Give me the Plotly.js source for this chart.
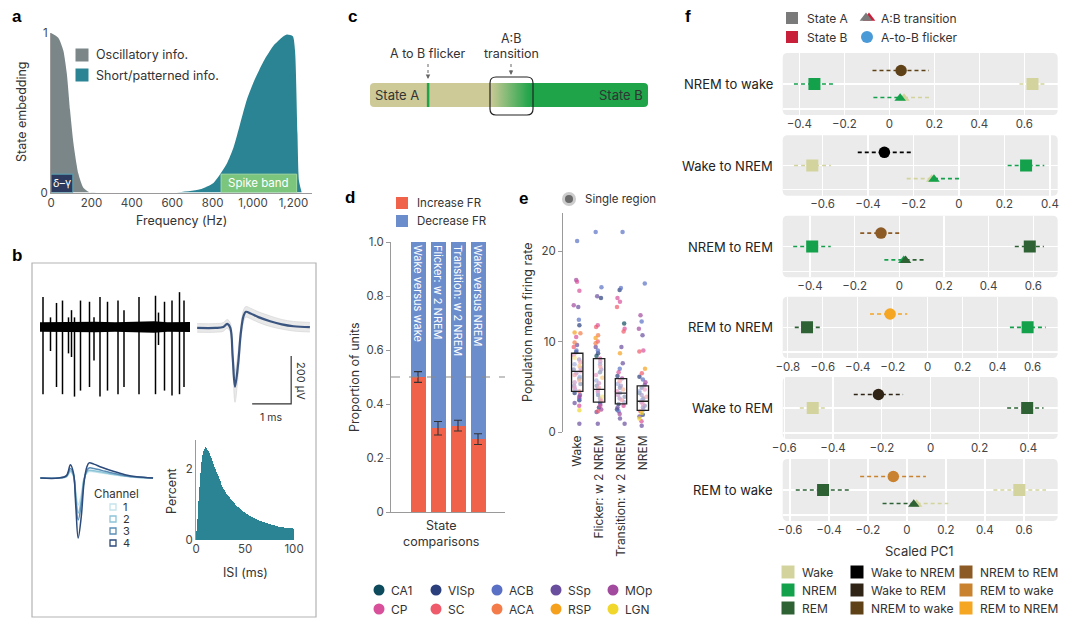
<!DOCTYPE html>
<html><head><meta charset="utf-8">
<script src="https://cdn.plot.ly/plotly-3.0.1.min.js"></script>
<style>html,body{margin:0;padding:0;background:#fff}#chart{width:1080px;height:626px}</style>
</head><body><div id="chart"></div>
<script>
const W=1080,H=626;
const FONT='Inter, "Noto Sans", "DejaVu Sans", sans-serif';

// ---------- DATA ----------
// a: state embedding vs frequency
const freqOsc=[0,36,61,78,94,111,135,160,193,225];
const embOsc=[1.0,0.97,0.89,0.75,0.52,0.31,0.12,0.03,0.0,0.0];
const freqSpk=[560,622,738,804,870,903,936,969,1002,1051,1101,1142,1167,1197,1208,1220,1228,1241];
const embSpk=[0,0.0,0.02,0.06,0.18,0.28,0.43,0.58,0.69,0.82,0.92,0.97,0.99,0.98,0.89,0.37,0.07,0];
const aLegend=['Oscillatory info.','Short/patterned info.'];
const aTickVals=[0,200,400,600,800,1000,1200];
const aTickText=['0','200','400','600','800','1,000','1,200'];

// b: raw trace spikes (time in % of window, amplitudes in µV)
const spikeT=[2,7,11,15,19,21,23,27,33,36,40,45,52,56,66,77,79,83,88,93,96];
const spikeUp=[125,40,100,110,40,70,40,110,105,40,125,105,110,70,125,130,60,105,110,145,110];
const spikeDown=[280,100,250,280,110,125,290,265,250,140,290,265,280,250,280,280,75,265,285,280,250];
const noiseAmp=[20,21,19,22,20,21,24,20,21];
const noiseT=[0,12,25,37,50,62,76,85,100];
// b: spike waveform (ms, µV)
const wfT=[-0.97,-0.5,-0.3,-0.2,-0.12,-0.06,0,0.08,0.15,0.22,0.28,0.4,0.6,0.9,1.2,1.5,1.92];
const wfMean=[0,0,4,17,0,-120,-245,-150,-20,50,67,60,45,28,15,7,3];
const wfSpread=[18,18,18,18,20,35,65,50,30,25,22,22,22,22,20,20,20];
// b: channel waveforms
const ch1=[0,0,5,25,8,-60,-112,-70,0,20,27,26,21,14,7,2,0];
const ch2=[0,0,6,30,10,-75,-146,-90,-5,25,32,30,25,16,8,3,0];
const ch3=[0,0,8,40,15,-90,-175,-110,-10,30,42,40,32,20,10,4,0];
const ch4=[0,0,10,55,20,-120,-250,-160,-20,45,63,58,45,28,14,5,0];
const chNames=['1','2','3','4'];
// b: ISI histogram (percent per 1-ms bin)
const isiPct=[0.25,0.6,1.1,1.5,1.9,2.2,2.4,2.5,2.58,2.62,2.6,2.55,2.5,2.44,2.37,2.3,2.22,2.14,2.07,2.0,1.93,1.86,1.8,1.73,1.67,1.6,1.55,1.5,1.45,1.4,1.36,1.31,1.27,1.23,1.2,1.16,1.12,1.09,1.06,1.03,1.0,0.97,0.94,0.92,0.89,0.87,0.85,0.83,0.8,0.78,0.76,0.74,0.72,0.71,0.69,0.67,0.66,0.64,0.63,0.61,0.6,0.59,0.57,0.56,0.55,0.54,0.53,0.52,0.51,0.5,0.49,0.48,0.47,0.46,0.45,0.44,0.44,0.43,0.42,0.41,0.41,0.4,0.39,0.39,0.38,0.38,0.37,0.37,0.36,0.36,0.35,0.35,0.35,0.34,0.34,0.34,0.33,0.33,0.33,0.32];

// c: timeline (percent of window)
const flickerT=20.9, transStart=43.2, transEnd=57.6, timelineEnd=100;

// d: proportion of units
const dCats=['Wake versus wake','Flicker: w 2 NREM','Transition: w 2 NREM','Wake versus NREM'];
const incFR=[0.50,0.31,0.32,0.27];
const incErr=[0.02,0.025,0.02,0.02];

// e: population mean firing rate
const eCats=['Wake','Flicker: w 2 NREM','Transition: w 2 NREM','NREM'];
const eQ1=[4.5,3.3,3.1,2.4], eMed=[6.7,4.7,4.3,3.4], eQ3=[8.7,8.1,5.9,5.1];
const regNames=['CA1','VISp','ACB','SSp','MOp','CP','SC','ACA','RSP','LGN'];
const regColors=['#0d4a5c','#2a3f7c','#5a70c4','#6a4e9e','#a24a9e','#d8509a','#ef5b6b','#f47c4a','#f6a11e','#f1d62c'];
const wakeVals=[21.1,16.8,16.6,15.6,14.0,13.8,12.4,11.8,11.0,10.9,10.5,9.9,9.6,9.4,9.0,8.8,8.5,8.2,8.0,7.7,7.5,7.3,7.1,6.9,6.7,6.5,6.3,6.1,5.9,5.7,5.5,5.3,5.1,4.9,4.7,4.5,4.3,4.1,3.9,3.7,3.5,3.2,2.9,2.4,0.9];
const wakeReg=[2,4,5,5,4,3,2,1,8,7,5,7,3,6,2,1,5,9,3,6,2,8,4,1,5,3,6,2,0,7,4,1,3,5,2,6,1,3,4,2,1,3,5,9,3];
const flickVals=[22.1,16.0,15.0,14.8,11.8,11.6,10.7,10.4,10.0,9.8,9.4,9.0,8.7,8.4,8.1,7.8,7.5,7.2,6.9,6.6,6.3,6.0,5.7,5.4,5.1,4.9,4.7,4.5,4.3,4.1,3.9,3.7,3.5,3.3,3.1,2.9,2.7,2.5,2.3,2.2,0.9];
const flickReg=[2,2,3,1,5,6,7,8,6,7,3,2,1,0,5,4,2,6,3,1,5,8,2,4,1,6,3,5,2,1,9,3,6,1,2,5,1,4,6,3,3];
const transVals=[22.1,15.9,15.7,14.8,14.4,13.8,12.0,11.4,11.1,9.4,8.7,7.6,7.0,6.6,6.2,5.9,5.6,5.3,5.1,4.9,4.7,4.5,4.3,4.1,3.9,3.7,3.5,3.3,3.1,2.9,2.7,2.5,2.3,2.0,1.5,0.9];
const transReg=[2,2,1,5,5,6,0,5,6,3,8,3,2,5,1,4,6,2,3,1,7,5,2,4,1,3,6,2,1,5,3,1,2,4,3,3];
const nremVals=[16.4,12.9,12.2,11.4,10.7,9.0,8.9,7.0,6.5,6.1,5.8,5.5,5.2,4.9,4.7,4.5,4.3,4.1,3.9,3.7,3.5,3.3,3.1,2.9,2.7,2.5,2.3,2.1,1.9,1.7,1.5,1.2,0.7];
const nremReg=[2,4,2,4,3,5,6,8,6,1,2,4,3,1,5,2,0,3,6,1,2,4,5,1,3,2,6,9,1,3,9,5,3];

// f: scaled PC1 per transition type: [value, low, high]
const fNames=['NREM to wake','Wake to NREM','NREM to REM','REM to NREM','Wake to REM','REM to wake'];
const fStateA=['NREM','Wake','NREM','REM','Wake','REM'];
const fStateB=['Wake','NREM','REM','NREM','REM','Wake'];
const fFlick=[[0.052,-0.075,0.176],[-0.328,-0.445,-0.211],[-0.082,-0.175,0.012],[-0.215,-0.33,-0.117],[-0.214,-0.315,-0.113],[-0.07,-0.24,0.097]];
const fA=[[-0.333,-0.424,-0.244],[-0.645,-0.725,-0.563],[-0.39,-0.475,-0.307],[-0.69,-0.76,-0.617],[-0.483,-0.536,-0.422],[-0.43,-0.57,-0.29]];
const fB=[[0.636,0.578,0.692],[0.295,0.214,0.375],[0.584,0.517,0.647],[0.571,0.47,0.674],[0.395,0.313,0.462],[0.576,0.443,0.713]];
const fTransA=[[0.048,-0.071],[-0.12,-0.23],[0.02,-0.067],null,null,[0.035,-0.125]];
const fTransB=[[0.065,0.184],[-0.11,0.004],[0.028,0.12],null,null,[0.05,0.212]];
const stateNames=['Wake','NREM','REM'];
const stateColors=['#d3d49d','#13a14b','#2e6234'];
const transNames=['Wake to NREM','Wake to REM','NREM to wake','NREM to REM','REM to wake','REM to NREM'];
const transColors=['#000000','#2f2416','#5e4117','#8c5a25','#c98230','#f5a623'];
const fTopLegend=['State A','State B','A:B transition','A-to-B flicker'];

// ---------- LAYOUT HELPERS ----------
const layout={width:W,height:H,margin:{l:0,r:0,t:0,b:0},paper_bgcolor:'#ffffff',plot_bgcolor:'rgba(0,0,0,0)',
  showlegend:false,font:{family:FONT,size:12,color:'#333'},shapes:[],annotations:[],boxmode:'overlay',barmode:'stack',hovermode:false};
const TICKF={family:FONT,size:11.5,color:'#444'};
function addAxes(n,xd,yd,xo,yo){
  const s=n===1?'':String(n);
  layout['xaxis'+s]=Object.assign({domain:[xd[0]/W,xd[1]/W],anchor:'y'+s,showgrid:false,zeroline:false,showline:false,showticklabels:false,ticks:'',fixedrange:true,tickfont:TICKF},xo||{});
  layout['yaxis'+s]=Object.assign({domain:[1-yd[1]/H,1-yd[0]/H],anchor:'x'+s,showgrid:false,zeroline:false,showline:false,showticklabels:false,ticks:'',fixedrange:true,tickfont:TICKF},yo||{});
}
function txt(x,y,text,o){layout.annotations.push(Object.assign({x:x/W,y:1-y/H,xref:'paper',yref:'paper',text:text,showarrow:false,xanchor:'center',yanchor:'middle',font:{family:FONT,size:12,color:'#333'}},o||{}));}
function letter(x,y,l){txt(x,y,'<b>'+l+'</b>',{font:{family:'"Liberation Sans", Arial, sans-serif',size:17,color:'#000'}});}
function rr(x0,x1,y0,y1,rx,ry){return `M ${x0+rx},${y0} L ${x1-rx},${y0} Q ${x1},${y0} ${x1},${y0+ry} L ${x1},${y1-ry} Q ${x1},${y1} ${x1-rx},${y1} L ${x0+rx},${y1} Q ${x0},${y1} ${x0},${y1-ry} L ${x0},${y0+ry} Q ${x0},${y0} ${x0+rx},${y0} Z`;}
const data=[];
// overlay axis for legend keys (pixel space)
addAxes(30,[0,W],[0,H],{range:[0,W]},{range:[H,0]});
function key(x,y,sym,color,size,o){data.push(Object.assign({type:'scatter',mode:'markers',x:[x],y:[y],xaxis:'x30',yaxis:'y30',marker:{symbol:sym,color:color,size:size,line:{width:0}},hoverinfo:'skip'},o||{}));}

// ---------- PANEL A ----------
addAxes(1,[51,312],[33,192.5],{range:[0,1292],showline:true,linecolor:'#9a9a9a',linewidth:1,showticklabels:true,tickvals:aTickVals,ticktext:aTickText},
  {range:[0,1],showline:true,linecolor:'#9a9a9a',linewidth:1,showticklabels:true,tickvals:[0,1],ticktext:['0','1']});
data.push({type:'scatter',x:freqOsc,y:embOsc,xaxis:'x',yaxis:'y',mode:'lines',line:{width:0,shape:'spline',smoothing:0.6},fill:'tozeroy',fillcolor:'#7b8689',hoverinfo:'skip'});
data.push({type:'scatter',x:freqSpk,y:embSpk,xaxis:'x',yaxis:'y',mode:'lines',line:{width:0,shape:'spline',smoothing:0.6},fill:'tozeroy',fillcolor:'#2b8494',hoverinfo:'skip'});
layout.shapes.push({type:'rect',xref:'x',yref:'y',x0:0,x1:108,y0:0,y1:0.115,fillcolor:'#2b3a5e',line:{color:'#5aa5b8',width:1}});
layout.shapes.push({type:'rect',xref:'x',yref:'y',x0:842,x1:1216,y0:0,y1:0.115,fillcolor:'#7cc57c',line:{color:'#a5d9a0',width:1}});
layout.annotations.push({xref:'x',yref:'y',x:54,y:0.058,text:'δ–γ',showarrow:false,font:{family:FONT,size:11,color:'#fff'}});
layout.annotations.push({xref:'x',yref:'y',x:1029,y:0.058,text:'Spike band',showarrow:false,font:{family:FONT,size:11.5,color:'#fff'}});
key(82,55,'square','#7b8689',13); key(82,75,'square','#2b8494',13);
txt(94,55,aLegend[0],{xanchor:'left',font:{family:FONT,size:12.5,color:'#333'}});
txt(94,75,aLegend[1],{xanchor:'left',font:{family:FONT,size:12.5,color:'#333'}});
txt(21,112,'State embedding',{textangle:-90,font:{family:FONT,size:12.5,color:'#333'}});
txt(181,220,'Frequency (Hz)',{font:{family:FONT,size:12.5,color:'#333'}});
letter(17,17,'a');

// ---------- PANEL B ----------
letter(17,255,'b');
layout.shapes.push({type:'rect',xref:'paper',yref:'paper',x0:32/W,x1:316/W,y0:1-617/H,y1:1-263/H,line:{color:'#b3b3b3',width:1.2}});
// raw trace
addAxes(2,[40,190],[290,405],{range:[0,100]},{range:[-325,154]});
data.push({type:'scatter',x:noiseT,y:noiseAmp.map(v=>-v),xaxis:'x2',yaxis:'y2',mode:'lines',line:{width:0,color:'#000'},hoverinfo:'skip'});
data.push({type:'scatter',x:noiseT,y:noiseAmp,xaxis:'x2',yaxis:'y2',mode:'lines',line:{width:0,color:'#000'},fill:'tonexty',fillcolor:'#000',hoverinfo:'skip'});
(function(){const xs=[],ys=[];spikeT.forEach((t,i)=>{xs.push(t,t,null);ys.push(-spikeDown[i],spikeUp[i],null);});
data.push({type:'scatter',x:xs,y:ys,xaxis:'x2',yaxis:'y2',mode:'lines',line:{width:1.5,color:'#000'},hoverinfo:'skip'});})();
// waveform
addAxes(3,[197,312],[290,415],{range:[-0.974,1.974]},{range:[-363,158]});
data.push({type:'scatter',x:wfT,y:wfMean.map((v,i)=>v-wfSpread[i]),xaxis:'x3',yaxis:'y3',mode:'lines',line:{width:0.6,color:'#d0d0d0',shape:'spline'},hoverinfo:'skip'});
data.push({type:'scatter',x:wfT,y:wfMean.map((v,i)=>v+wfSpread[i]),xaxis:'x3',yaxis:'y3',mode:'lines',line:{width:0.6,color:'#d0d0d0',shape:'spline'},fill:'tonexty',fillcolor:'rgba(200,200,200,0.4)',hoverinfo:'skip'});
data.push({type:'scatter',x:wfT,y:wfMean,xaxis:'x3',yaxis:'y3',mode:'lines',line:{width:2.2,color:'#3a5580',shape:'spline'},hoverinfo:'skip'});
layout.shapes.push({type:'path',xref:'x3',yref:'y3',path:'M 0.44,-317 L 1.44,-317 L 1.44,-117',line:{color:'#333',width:1.2}});
txt(301,381,'200 µV',{textangle:90,font:{family:FONT,size:11,color:'#333'}});
txt(271,417,'1 ms',{font:{family:FONT,size:10.5,color:'#333'}});
// channels
addAxes(4,[38,155],[455,545],{range:[-1.03,1.97]},{range:[-279,96]});
const chCols=['#c4e3ec','#8cc4d7','#5a8db5','#2c4a7a'];
[ch1,ch2,ch3,ch4].forEach((c,i)=>data.push({type:'scatter',x:wfT,y:c,xaxis:'x4',yaxis:'y4',mode:'lines',line:{width:1.5,color:chCols[i],shape:'spline'},hoverinfo:'skip'}));
txt(116,494,'Channel',{font:{family:FONT,size:11.5,color:'#333'}});
chNames.forEach((n,i)=>{const y=507+i*12;key(113,y,'square-open',chCols[i],6,{marker:{symbol:'square-open',size:6,color:chCols[i],line:{width:1.3,color:chCols[i]}}});txt(121,y,n,{xanchor:'left',font:{family:FONT,size:11,color:'#333'}});});
// ISI histogram
addAxes(5,[196,296],[440,540],{range:[0,102],showticklabels:true,tickvals:[0,50,100],ticktext:['0','50','100']},
  {range:[0,2.82],showline:true,linecolor:'#9a9a9a',showticklabels:true,tickvals:[0,2],ticktext:['0','2']});
data.push({type:'bar',x:isiPct.map((_,i)=>i+0.5),y:isiPct,width:1,xaxis:'x5',yaxis:'y5',marker:{color:'#2a8493',line:{width:0}},hoverinfo:'skip'});
txt(171,491,'Percent',{textangle:-90,font:{family:FONT,size:12.5,color:'#333'}});
txt(245,572,'ISI (ms)',{font:{family:FONT,size:12.5,color:'#333'}});

// ---------- PANEL C ----------
letter(352,16,'c');
addAxes(6,[370,648],[83,107],{range:[0,100]},{range:[0,1]});
layout.shapes.push({type:'path',xref:'x6',yref:'y6',path:rr(0,transStart+1,0,1,1.5,0.17),fillcolor:'#cdca97',line:{width:0},layer:'below'});
layout.shapes.push({type:'path',xref:'x6',yref:'y6',path:rr(transEnd-1,timelineEnd,0,1,1.5,0.17),fillcolor:'#1fa44a',line:{width:0},layer:'below'});
data.push({type:'scatter',x:[transStart,transEnd,transEnd,transStart,transStart],y:[0,0,1,1,0],xaxis:'x6',yaxis:'y6',mode:'lines',line:{width:0},fill:'toself',
  fillgradient:{type:'horizontal',colorscale:[[0,'#cdca97'],[1,'#1fa44a']]},hoverinfo:'skip'});
layout.shapes.push({type:'line',xref:'x6',yref:'y6',x0:flickerT,x1:flickerT,y0:0,y1:1,line:{color:'#1fa44a',width:2.5}});
(function(){const x0=490/W,x1=533/W,y0=1-115/H,y1=1-77/H,rx=6/W,ry=6/H;
  layout.shapes.push({type:'path',xref:'paper',yref:'paper',path:rr(x0,x1,y0,y1,rx,ry),line:{color:'#222',width:1.2}});})();
txt(373,95,'State A',{xanchor:'left',font:{family:FONT,size:13,color:'#333'}});
txt(645,95,'State B',{xanchor:'right',font:{family:FONT,size:13,color:'#333'}});
txt(428,53,'A to B flicker',{font:{family:FONT,size:12.5,color:'#333'}});
txt(511,38,'A:B',{font:{family:FONT,size:12.5,color:'#333'}});
txt(511,53,'transition',{font:{family:FONT,size:12.5,color:'#333'}});
[[428,64,79],[511,64,75]].forEach(a=>{
  layout.shapes.push({type:'line',xref:'paper',yref:'paper',x0:a[0]/W,x1:a[0]/W,y0:1-a[1]/H,y1:1-(a[2]-3)/H,line:{color:'#666',width:1,dash:'dot'}});
  layout.annotations.push({xref:'paper',yref:'paper',x:a[0]/W,y:1-a[2]/H,ax:0,ay:-4,showarrow:true,arrowhead:2,arrowsize:0.9,arrowwidth:1,arrowcolor:'#666',text:''});
});

// ---------- PANEL D ----------
letter(350,197,'d');
addAxes(7,[391,505],[242,512],{type:'category',range:[-1.35,4.35],showline:true,linecolor:'#9a9a9a'},
  {range:[0,1],showline:true,linecolor:'#9a9a9a',ticks:'outside',ticklen:4,tickcolor:'#9a9a9a',showticklabels:true,tickvals:[0,0.2,0.4,0.6,0.8,1],ticktext:['0','0.2','0.4','0.6','0.8','1.0']});
data.push({type:'bar',x:dCats,y:incFR,width:0.75,xaxis:'x7',yaxis:'y7',marker:{color:'#f0624a',line:{width:0}},hoverinfo:'skip'});
data.push({type:'bar',x:dCats,y:incFR.map(v=>1-v),width:0.75,xaxis:'x7',yaxis:'y7',marker:{color:'#6b8dcc',line:{width:0}},
  text:dCats,textposition:'inside',insidetextanchor:'end',textangle:90,constraintext:'none',textfont:{family:FONT,size:11,color:'#fff'},hoverinfo:'skip'});
data.push({type:'scatter',x:dCats,y:incFR,xaxis:'x7',yaxis:'y7',mode:'markers',marker:{size:1,color:'rgba(0,0,0,0)'},
  error_y:{type:'data',array:incErr,color:'#333',thickness:1.1,width:4},hoverinfo:'skip'});
layout.shapes.push({type:'line',xref:'x7 domain',yref:'y7',x0:0,x1:1,y0:0.5,y1:0.5,line:{color:'#8a8a8a',width:1.2,dash:'dash'}});
key(402,203,'square','#f0624a',12); key(402,221,'square','#6b8dcc',12);
txt(415,203,'Increase FR',{xanchor:'left',font:{family:FONT,size:11.5,color:'#333'}});
txt(415,221,'Decrease FR',{xanchor:'left',font:{family:FONT,size:11.5,color:'#333'}});
txt(354,377,'Proportion of units',{textangle:-90,font:{family:FONT,size:12.5,color:'#333'}});
txt(441,533,'State<br>comparisons',{font:{family:FONT,size:12.5,color:'#333'}});

// ---------- PANEL E ----------
letter(523,198,'e');
addAxes(8,[563,656],[213,432],{type:'category',range:[-0.65,3.6],showticklabels:true,tickangle:-90,tickfont:{family:FONT,size:12,color:'#333'}},
  {range:[0,24.2],showline:true,linecolor:'#9a9a9a',ticks:'outside',ticklen:4,tickcolor:'#9a9a9a',showticklabels:true,tickvals:[0,10,20],ticktext:['0','10','20']});
(function(){
  const cats=[[wakeVals,wakeReg],[flickVals,flickReg],[transVals,transReg],[nremVals,nremReg]];
  regNames.forEach((r,ri)=>{const xs=[],ys=[];
    cats.forEach((c,ci)=>c[0].forEach((v,k)=>{if(c[1][k]===ri){xs.push(eCats[ci]);ys.push(v);}}));
    if(xs.length) data.push({type:'box',x:xs,y:ys,xaxis:'x8',yaxis:'y8',boxpoints:'all',jitter:0.75,pointpos:0,width:0.5,
      fillcolor:'rgba(0,0,0,0)',line:{width:0,color:'rgba(0,0,0,0)'},whiskerwidth:0,marker:{color:regColors[ri],size:4.5,opacity:0.7},hoverinfo:'skip'});
  });
})();
data.push({type:'box',x:eCats,q1:eQ1,median:eMed,q3:eQ3,lowerfence:eQ1,upperfence:eQ3,width:0.52,xaxis:'x8',yaxis:'y8',
  fillcolor:'rgba(255,255,255,0.45)',line:{color:'#222',width:1.3},whiskerwidth:0,boxpoints:false,hoverinfo:'skip'});
key(569,199,'circle','rgba(110,110,110,0.35)',14); key(569,199,'circle','#6a6a6a',8);
txt(583,199,'Single region',{xanchor:'left',font:{family:FONT,size:11.5,color:'#333'}});
txt(527,323,'Population mean firing rate',{textangle:-90,font:{family:FONT,size:12.5,color:'#333'}});
const regX=[379,436,497,556,613], regY=[590,609];
regNames.forEach((r,i)=>{const x=regX[i%5],y=regY[Math.floor(i/5)];key(x,y,'circle',regColors[i],11);txt(x+10,y,r,{xanchor:'left',font:{family:FONT,size:12,color:'#333'}});});

// ---------- PANEL F ----------
letter(688,16,'f');
const fRanges=[[-0.474,0.748],[-0.775,0.434],[-0.522,0.709],[-0.829,0.743],[-0.606,0.52],[-0.637,0.773]];
const fTop=[53,135.3,215.7,296.7,377,459], fBot=[115,195.7,277.3,358,439,521];
function sCol(n){return stateColors[stateNames.indexOf(n)];}
function tCol(n){return transColors[transNames.indexOf(n)];}
fNames.forEach((nm,i)=>{
  const n=9+i, ax='x'+n, ay='y'+n;
  addAxes(n,[782.7,1057.7],[fTop[i],fBot[i]],{range:fRanges[i],showgrid:true,gridcolor:'#ffffff',gridwidth:1.2,tickmode:'array',tickvals:[-0.8,-0.6,-0.4,-0.2,0,0.2,0.4,0.6],showticklabels:true},
    {range:[-2.3,2.3],showgrid:true,gridcolor:'#ffffff',gridwidth:1.2,tickvals:[0,-1.85]});
  const rx=5/275, ry=5/(fBot[i]-fTop[i]);
  layout.shapes.push({type:'path',xref:ax+' domain',yref:ay+' domain',path:rr(0,1,0,1,rx,ry),fillcolor:'#ebebeb',line:{width:0},layer:'below'});
  function seg(lo,hi,y,col){data.push({type:'scatter',x:[lo,hi],y:[y,y],xaxis:ax,yaxis:ay,mode:'lines',line:{color:col,width:1.6,dash:'4px,3px'},hoverinfo:'skip'});}
  function pt(x,y,sym,col,size){data.push({type:'scatter',x:[x],y:[y],xaxis:ax,yaxis:ay,mode:'markers',marker:{symbol:sym,color:col,size:size,line:{width:0}},hoverinfo:'skip'});}
  const fc=tCol(nm); seg(fFlick[i][1],fFlick[i][2],1,fc); pt(fFlick[i][0],1,'circle',fc,11.5);
  const ca=sCol(fStateA[i]), cb=sCol(fStateB[i]);
  seg(fA[i][1],fA[i][2],0,ca); pt(fA[i][0],0,'square',ca,12);
  seg(fB[i][1],fB[i][2],0,cb); pt(fB[i][0],0,'square',cb,12);
  if(fTransA[i]){
    seg(fTransA[i][1],fTransA[i][0],-1,ca); seg(fTransB[i][0],fTransB[i][1],-1,cb);
    const order=[[fTransA[i][0],ca,stateNames.indexOf(fStateA[i])],[fTransB[i][0],cb,stateNames.indexOf(fStateB[i])]].sort((a,b)=>a[2]-b[2]);
    order.forEach(o=>pt(o[0],-1.05,'triangle-up',o[1],10));
  }
  txt(775,(fTop[i]+fBot[i])/2,nm,{xanchor:'right',font:{family:FONT,size:13,color:'#222'}});
});
txt(919,551,'Scaled PC1',{font:{family:FONT,size:13,color:'#333'}});
key(792,18,'square','#7a7a7a',12); key(792,37,'square','#c8203a',12);
key(869,18,'triangle-up','#c8203a',11); key(866,18,'triangle-up','#7a7a7a',11); key(867,37,'circle','#4a9ad8',12);
txt(805,18,fTopLegend[0],{xanchor:'left',font:{family:FONT,size:12,color:'#333'}});
txt(805,37,fTopLegend[1],{xanchor:'left',font:{family:FONT,size:12,color:'#333'}});
txt(879,18,fTopLegend[2],{xanchor:'left',font:{family:FONT,size:12,color:'#333'}});
txt(879,37,fTopLegend[3],{xanchor:'left',font:{family:FONT,size:12,color:'#333'}});
const legCols=[788,857,966], legRows=[572,590,608];
stateNames.forEach((s,i)=>{key(legCols[0],legRows[i],'square',stateColors[i],13);txt(legCols[0]+12,legRows[i],s,{xanchor:'left',font:{family:FONT,size:12,color:'#333'}});});
transNames.forEach((s,i)=>{const c=1+Math.floor(i/3), r=i%3;key(legCols[c],legRows[r],'square',transColors[i],13);txt(legCols[c]+12,legRows[r],s,{xanchor:'left',font:{family:FONT,size:12,color:'#333'}});});

Plotly.newPlot('chart',data,layout,{staticPlot:true,displayModeBar:false});
</script></body></html>
